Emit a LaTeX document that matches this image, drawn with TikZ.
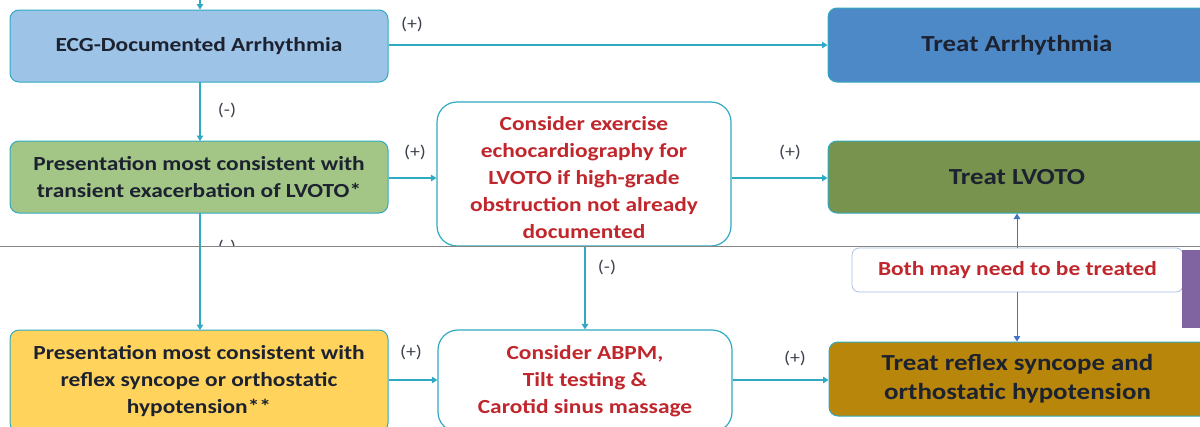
\documentclass[tikz,border=0pt]{standalone}
\usepackage{fontspec}
\setmainfont{Carlito}[FakeStretch=1.17]
\usetikzlibrary{arrows.meta}
\definecolor{ecgfill}{HTML}{9DC3E6}
\definecolor{arrfill}{HTML}{4D89C7}
\definecolor{lvfill}{HTML}{A3C585}
\definecolor{tlvfill}{HTML}{77934E}
\definecolor{yelfill}{HTML}{FFD35C}
\definecolor{reffill}{HTML}{B8860B}
\definecolor{flow}{HTML}{30AAC2}
\definecolor{redtxt}{HTML}{C0272D}
\definecolor{darktxt}{HTML}{1C2230}
\definecolor{bluearr}{HTML}{4472C4}
\definecolor{seam}{HTML}{858585}
\definecolor{tab}{HTML}{8064A2}
\begin{document}
\begin{tikzpicture}[x=1pt,y=-1pt,
  fbox/.style={draw=flow, line width=1pt, rounded corners=9pt, inner sep=0pt,
    align=center, text=darktxt, font=\bfseries\fontsize{20}{27}\selectfont},
  wbox/.style={draw=flow, line width=1.2pt, fill=white, rounded corners=20pt, inner sep=0pt,
    align=center, text=redtxt, font=\bfseries\fontsize{20}{27}\selectfont},
  bigtext/.style={font=\bfseries\fontsize{23}{29}\selectfont},
  flowarr/.style={draw=flow, line width=1.3pt, -{Triangle[width=6.5pt,length=5.5pt]}},
  bluearrow/.style={draw=bluearr, line width=1pt, -{Triangle[width=6.5pt,length=5.5pt]}},
  sign/.style={text=darktxt!85, font=\fontsize{17}{17}\selectfont, inner sep=0pt}]
\useasboundingbox (0,0) rectangle (1200,426);
\fill[white] (0,0) rectangle (1200,426);

% left column
\node[fbox, fill=ecgfill, minimum width=378pt, minimum height=72pt] (ecg) at (199,46)
  {ECG-Documented Arrhythmia};
\node[fbox, fill=lvfill, minimum width=378pt, minimum height=72pt] (lvp) at (199,177)
  {Presentation most consistent with\\transient exacerbation of LVOTO*};
\node[fbox, fill=yelfill, minimum width=378pt, minimum height=102pt] (yel) at (199,381)
  {Presentation most consistent with\\reflex syncope or orthostatic\\hypotension**};

% middle column
\node[wbox, minimum width=294pt, minimum height=144pt] (exe) at (584,174) {};
\node[align=center, text=redtxt, inner sep=0pt, font=\bfseries\fontsize{20}{27}\selectfont]
  (exetext) at (584,178)
  {Consider exercise\\echocardiography for\\LVOTO if high-grade\\obstruction not already\\documented};
\node[wbox, minimum width=294pt, minimum height=102pt] (abp) at (585,381)
  {Consider ABPM,\\Tilt testing \&\\Carotid sinus massage};

% right column (runs past the right edge)
\node[fbox, bigtext, fill=arrfill, minimum width=387pt, minimum height=74pt] (arr)
  at (1021.5,45) {\hspace*{-9pt}Treat Arrhythmia};
\node[fbox, bigtext, fill=tlvfill, minimum width=387pt, minimum height=72pt] (tlv)
  at (1021.5,177) {\hspace*{-9pt}Treat LVOTO};
\node[fbox, bigtext, fill=reffill, minimum width=386pt, minimum height=74pt] (ref)
  at (1022,379) {\hspace*{-9pt}Treat reflex syncope and\\\hspace*{-9pt}orthostatic hypotension};
\node[draw=bluearr!45, line width=0.8pt, fill=white, rounded corners=7pt, minimum width=331pt,
  minimum height=44pt, inner sep=0pt, text=redtxt, font=\bfseries\fontsize{20}{22}\selectfont]
  (both) at (1017.5,270) {Both may need to be treated};

% connectors
\coordinate (top) at (200,-6);
\draw[flowarr] (top) -- (top |- ecg.north);
\draw[flowarr] (ecg.east |- 0,45) -- (arr.west |- 0,45);
\node[sign] (p1) at (412,24) {(+)};
\draw[flowarr] (200,82) -- (200,141);
\node[sign] (m1) at (227,110) {(-)};
\draw[flowarr] (lvp.east |- 0,178) -- (exe.west |- 0,178);
\node[sign] (p2) at (415,152) {(+)};
\draw[flowarr] (exe.east |- 0,178) -- (tlv.west |- 0,178);
\node[sign] (p3) at (790,152) {(+)};
\draw[flowarr] (200,213) -- (200,330);
\begin{scope}
  \clip (150,200) rectangle (300,245);
  \node[sign] (m2) at (227,247) {(-)};
\end{scope}
\draw[flowarr] (585,246) -- (abp.north);
\node[sign] (m3) at (607,267) {(-)};
\draw[flowarr] (yel.east |- 0,380) -- (abp.west |- 0,380);
\node[sign] (p4) at (411,352) {(+)};
\draw[flowarr] (abp.east |- 0,380) -- (ref.west |- 0,380);
\node[sign] (p5) at (795,358) {(+)};
\draw[bluearrow] (both.north -| 1017,0) -- (tlv.south -| 1017,0);
\draw[bluearrow] (both.south -| 1017,0) -- (ref.north -| 1017,0);

% seam line and side tab
\draw[seam, line width=1.8pt] (0,246.5) -- (1200,246.5);
\fill[tab] (1182,250) rectangle (1200,328);
\end{tikzpicture}
\end{document}
